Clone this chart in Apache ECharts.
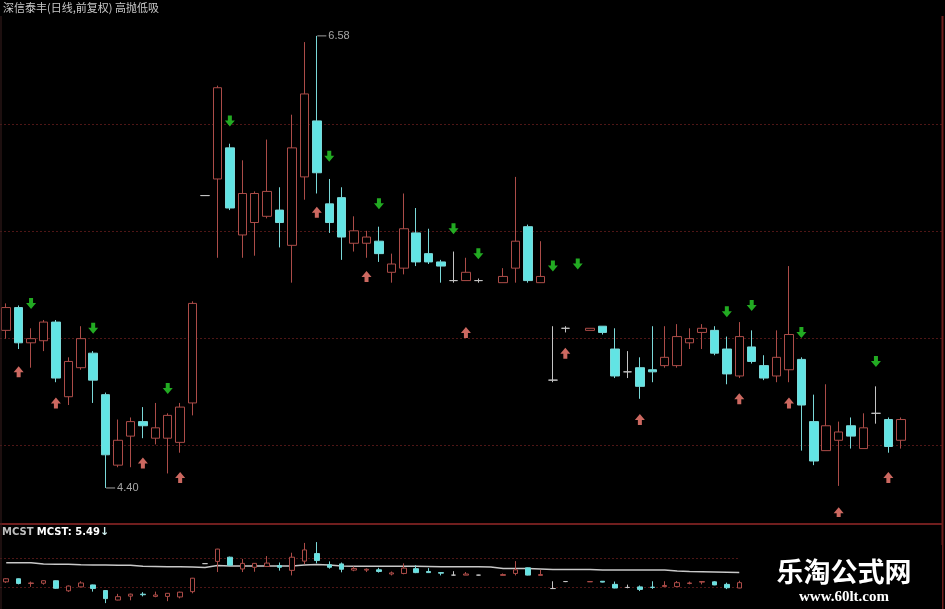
<!DOCTYPE html>
<html><head><meta charset="utf-8">
<script src="https://cdn.jsdelivr.net/npm/echarts@6/dist/echarts.min.js"></script>
<style>html,body{margin:0;padding:0;background:#000;}#c{width:945px;height:609px;}</style>
</head><body><div id="c"></div>
<script>
// ---- data (price) ----
const days = ['1','2','3','4','5','6','7','8','9','10','11','12','13','14','15','16','17','18','19','20','21','22','23','24','25','26','27','28','29','30','31','32','33','34','35','36','37','38','39','40','41','42','43','44','45','46','47','48','49','50','51','52','53','54','55','56','57','58','59','60','61','62','63','64','65','66','67','68','69','70','71','72','73'];
const openP  = [5.16,5.27,5.10,5.11,5.20,4.84,4.98,5.05,4.85,4.51,4.65,4.72,4.64,4.64,4.62,4.81,5.81,5.89,6.04,5.62,5.68,5.71,5.74,5.57,5.90,6.17,5.77,5.80,5.58,5.58,5.59,5.44,5.46,5.63,5.53,5.49,5.40,5.40,5.40,null,5.39,5.46,5.66,5.39,4.92,5.17,null,5.16,5.18,5.07,4.96,4.98,4.97,4.99,4.99,5.10,5.15,5.16,5.07,4.94,5.08,4.99,4.94,4.97,5.02,4.72,4.58,4.63,4.70,4.59,4.76,4.73,4.63];
const closeP = [5.27,5.10,5.12,5.20,4.93,5.01,5.12,4.92,4.56,4.63,4.72,4.70,4.69,4.75,4.79,5.29,5.81,6.33,5.75,5.82,5.82,5.83,5.68,6.04,6.30,5.92,5.68,5.61,5.64,5.61,5.53,5.48,5.65,5.49,5.49,5.47,5.40,5.44,5.40,null,5.42,5.59,5.40,5.42,4.92,5.17,null,5.17,5.15,4.94,4.96,4.89,4.96,5.03,5.13,5.12,5.17,5.05,4.95,5.13,5.01,4.93,5.03,5.14,4.80,4.53,4.70,4.67,4.65,4.69,4.76,4.60,4.73];
const lowP   = [5.12,5.07,4.98,5.06,4.91,4.80,4.97,4.81,4.40,4.50,4.50,4.64,4.61,4.47,4.57,4.75,5.81,5.51,5.74,5.51,5.52,5.70,5.56,5.39,5.79,5.82,5.63,5.50,5.54,5.51,5.49,5.39,5.43,5.47,5.48,5.39,5.39,5.40,5.39,null,5.39,5.39,5.39,5.39,4.91,5.15,null,5.16,5.14,4.93,4.93,4.83,4.91,4.98,4.98,5.07,5.07,5.04,4.90,4.93,5.00,4.92,4.91,4.91,4.58,4.51,4.58,4.41,4.59,4.59,4.71,4.57,4.59];
const highP  = [5.29,5.28,5.17,5.21,5.21,5.03,5.18,5.06,4.86,4.73,4.74,4.79,4.81,4.76,4.81,5.30,5.81,6.34,6.06,5.98,5.83,6.08,5.85,6.20,6.55,6.58,5.89,5.85,5.71,5.64,5.66,5.53,5.82,5.75,5.65,5.50,5.54,5.51,5.41,null,5.46,5.90,5.67,5.59,5.18,5.18,null,5.17,5.18,5.17,5.06,5.03,5.18,5.18,5.19,5.17,5.19,5.18,5.13,5.20,5.16,5.04,5.16,5.47,5.03,4.85,4.90,4.72,4.74,4.76,4.89,4.74,4.74];
// MCST (mean cost) line, bottom panel
const mcst = [5.84,5.84,5.84,5.80,5.79,5.79,5.77,5.76,5.76,5.75,5.75,5.72,5.71,5.70,5.70,5.69,5.67,5.74,5.73,5.73,5.73,5.73,5.73,5.73,5.76,5.78,5.76,5.73,5.72,5.72,5.72,5.72,5.72,5.72,5.71,5.70,5.70,5.70,5.70,5.69,5.64,5.64,5.64,5.62,5.60,5.60,5.60,5.60,5.58,5.58,5.58,5.58,5.58,5.58,5.55,5.53,5.52,5.51,5.50,5.49];
// sell signals (green, above) and buy signals (pink, below)
const sellIdx = [2,7,13,18,26,30,36,38,44,46,58,60,64,70];
const sellVal = [5.29,5.17,4.88,6.17,6.00,5.77,5.65,5.53,5.47,5.48,5.25,5.28,5.15,5.01];
const buyIdx  = [1,4,11,14,25,29,37,45,51,59,63,67,71];
const buyVal  = [4.96,4.81,4.52,4.45,5.73,5.42,5.15,5.05,4.73,4.83,4.81,4.28,4.45];
// extreme labels
const extIdx = [25, 8];
const extVal = [6.58, 4.40];
const titleText = '深信泰丰(日线,前复权) 高抛低吸';
const mcstLast = 5.49;

// ---- build ----
const kData = days.map((d, i) => openP[i] == null ? ['-','-','-','-'] : [openP[i], closeP[i], lowP[i], highP[i]]);
const mcstData = days.map((d, i) => i < mcst.length ? mcst[i] : '-');
const sellData = sellIdx.map((x, i) => [x, sellVal[i]]);
const buyData = buyIdx.map((x, i) => [x, buyVal[i]]);
const extData = extIdx.map((x, i) => [x, extVal[i]]);

const RED = '#ac4c48', CYAN = '#62e4e4', DOJI = '#c4c4c4', GRIDC = '#4e1616';
const kStyle = { color: '#000', color0: CYAN, borderColor: RED, borderColor0: '#7ad8d8', borderColorDoji: DOJI, borderWidth: 1 };

const chart = echarts.init(document.getElementById('c'), null, { renderer: 'canvas' });
const dotted = { show: true, lineStyle: { color: GRIDC, type: [2, 2], width: 1 } };
chart.setOption({
  backgroundColor: '#000',
  animation: false,
  grid: [
    { left: 0, top: 11, width: 907, height: 506 },
    { left: 0, top: 124, width: 942, height: 321 },
    { left: 0, top: 525, width: 907, height: 84 },
    { left: 0, top: 558, width: 740, height: 29 }
  ],
  xAxis: [
    { type: 'category', data: days, gridIndex: 0, show: false },
    { type: 'value', gridIndex: 1, min: 0, max: 1, show: false },
    { type: 'category', data: days, gridIndex: 2, show: false },
    { type: 'value', gridIndex: 3, min: 0, max: 1, show: false }
  ],
  yAxis: [
    { type: 'value', gridIndex: 0, min: 4.26, max: 6.70, show: false },
    { type: 'value', gridIndex: 1, min: 0, max: 3, interval: 1, axisLine: { show: false }, axisTick: { show: false }, axisLabel: { show: false }, splitLine: dotted },
    { type: 'value', gridIndex: 2, min: 4.19, max: 7.19, show: false },
    { type: 'value', gridIndex: 3, min: 0, max: 1, interval: 1, axisLine: { show: false }, axisTick: { show: false }, axisLabel: { show: false }, splitLine: dotted }
  ],
  series: [
    { type: 'candlestick', xAxisIndex: 0, yAxisIndex: 0, data: kData, barWidth: 9, itemStyle: kStyle, z: 3 },
    { type: 'scatter', xAxisIndex: 0, yAxisIndex: 0, data: sellData, z: 4,
      symbol: 'path://M3,0L7,0L7,5L10,5L5,11L0,5L3,5Z', symbolSize: [10, 11], itemStyle: { color: '#2bd42b' } },
    { type: 'scatter', xAxisIndex: 0, yAxisIndex: 0, data: buyData, z: 4,
      symbol: 'path://M5,0L10,6L7,6L7,11L3,11L3,6L0,6Z', symbolSize: [10, 11], itemStyle: { color: '#ff8278' } },
    { type: 'scatter', xAxisIndex: 0, yAxisIndex: 0, data: extData, z: 5,
      symbol: 'rect', symbolSize: [9, 1], symbolOffset: [5, 0], itemStyle: { color: '#c8c8c8' },
      label: { show: true, position: 'right', distance: 2, color: '#cfcfcf', fontSize: 11, fontFamily: 'Liberation Sans, Arial', formatter: p => p.value[1].toFixed(2) } },
    { type: 'candlestick', xAxisIndex: 2, yAxisIndex: 2, data: kData, barWidth: 5, itemStyle: kStyle, z: 3 },
    { type: 'line', xAxisIndex: 2, yAxisIndex: 2, data: mcstData, symbol: 'none', lineStyle: { color: '#c8c8c8', width: 1.5 }, z: 2 }
  ],
  graphic: [
    { type: 'rect', shape: { x: 0, y: 517, width: 945, height: 6 }, style: { fill: '#000' }, z: 50 },
    { type: 'line', shape: { x1: 0, y1: 524, x2: 943, y2: 524 }, style: { stroke: '#701e1e', lineWidth: 2 }, z: 51 },
    { type: 'line', shape: { x1: 942.5, y1: 16, x2: 942.5, y2: 609 }, style: { stroke: '#701e1e', lineWidth: 2 }, z: 51 },
    { type: 'line', shape: { x1: 1, y1: 16, x2: 1, y2: 609 }, style: { stroke: '#3a1e1e', lineWidth: 1 }, z: 51 },
    { type: 'text', left: 3, top: 2, z: 52, style: { text: titleText, fill: '#c8c8c8', font: '11px "Noto Sans CJK SC"' } },
    { type: 'text', left: 2, top: 526, z: 52, style: {
        text: '{a|MCST} {b|MCST: ' + mcstLast.toFixed(2) + '}{c|↓}',
        rich: { a: { fill: '#bfbfbf', font: 'bold 10px "DejaVu Sans"' }, b: { fill: '#ffffff', font: 'bold 10px "DejaVu Sans"' }, c: { fill: '#d0f0f0', font: 'bold 11px "DejaVu Sans"' } } } },
    { type: 'rect', shape: { x: 745, y: 545, width: 197, height: 64 }, style: { fill: '#000' }, z: 60 },
    { type: 'text', x: 844, y: 572, z: 61, style: { text: '乐淘公式网', fill: '#ffffff', font: 'bold 27px "Noto Sans CJK SC"', align: 'center', verticalAlign: 'middle' } },
    { type: 'text', x: 844, y: 597, z: 61, style: { text: 'www.60lt.com', fill: '#ffffff', font: 'bold 15px "Liberation Serif"', align: 'center', verticalAlign: 'middle' } }
  ]
});
</script></body></html>
